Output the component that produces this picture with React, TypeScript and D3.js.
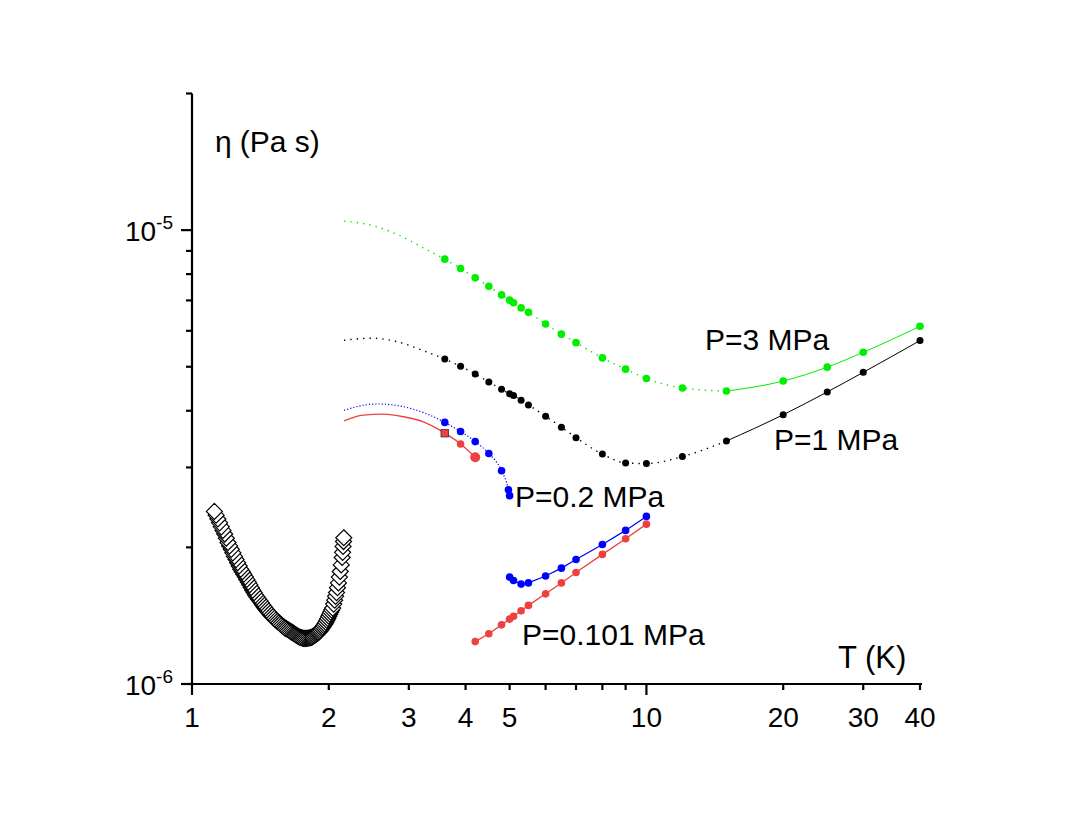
import React from "react";
import * as d3 from "d3";

// P = 3 MPa and P = 1 MPa share the same temperatures (K)
const tempsHighP = [3.6, 3.9, 4.2, 4.5, 4.8, 5.0, 5.1, 5.3, 5.5, 6, 6.5, 7, 8, 9, 10, 12, 15, 20, 25, 30, 40];
// viscosity in units of 1e-6 Pa s
const eta3MPa = [8.63, 8.23, 7.85, 7.52, 7.2, 7.01, 6.92, 6.74, 6.59, 6.21, 5.9, 5.65, 5.23, 4.94, 4.71, 4.49, 4.42, 4.65, 4.99, 5.38, 6.14];
const eta1MPa = [5.2, 5.01, 4.82, 4.63, 4.46, 4.36, 4.32, 4.22, 4.12, 3.89, 3.68, 3.49, 3.21, 3.07, 3.06, 3.17, 3.43, 3.92, 4.4, 4.86, 5.71];

// fitted curve extension to low T
const fitTempsHighP = [2.16, 2.49, 2.82, 3.3];
const fit3MPa = [10.47, 10.24, 9.8, 9.03];
const fit1MPa = [5.72, 5.78, 5.68, 5.38];

// P = 0.2 MPa
const temps02Liq = [3.6, 3.9, 4.2, 4.5, 4.8, 4.97, 5.0];
const eta02Liq = [3.77, 3.6, 3.42, 3.22, 2.95, 2.68, 2.6];
const fitTemps02 = [2.16, 2.32, 2.55, 2.82, 3.12, 3.34];
const fit02 = [4.01, 4.09, 4.14, 4.11, 4.01, 3.91];
const temps02Gas = [5.0, 5.1, 5.3, 5.5, 6, 6.5, 7, 8, 9, 10];
const eta02Gas = [1.72, 1.69, 1.66, 1.67, 1.73, 1.8, 1.88, 2.03, 2.18, 2.34];

// P = 0.101 MPa
const temps0101Liq = [3.6, 3.9, 4.2];
const eta0101Liq = [3.57, 3.38, 3.16];
const fitTemps0101 = [2.16, 2.38, 2.64, 2.92, 3.23];
const fit0101 = [3.8, 3.91, 3.93, 3.88, 3.78];
const temps0101Gas = [4.2, 4.5, 4.8, 5.0, 5.1, 5.3, 5.5, 6, 6.5, 7, 8, 9, 10];
const eta0101Gas = [1.24, 1.29, 1.35, 1.39, 1.41, 1.45, 1.49, 1.58, 1.67, 1.76, 1.93, 2.09, 2.25];

// superfluid helium (diamonds)
const tempsHe = [
  1.12, 1.13, 1.14, 1.15, 1.16, 1.17, 1.18, 1.19, 1.2, 1.21, 1.22, 1.23, 1.24, 1.25, 1.26, 1.27, 1.28, 1.29,
  1.3, 1.31, 1.32, 1.33, 1.34, 1.35, 1.36, 1.37, 1.38, 1.39, 1.4, 1.41, 1.42, 1.43, 1.44, 1.45, 1.46, 1.47,
  1.48, 1.49, 1.5, 1.51, 1.52, 1.53, 1.54, 1.55, 1.56, 1.57, 1.58, 1.59, 1.6, 1.61, 1.62, 1.63, 1.64, 1.65,
  1.66, 1.67, 1.68, 1.69, 1.7, 1.71, 1.72, 1.73, 1.74, 1.75, 1.76, 1.77, 1.78, 1.79, 1.8, 1.81, 1.82, 1.83,
  1.84, 1.85, 1.86, 1.87, 1.88, 1.89, 1.9, 1.91, 1.92, 1.93, 1.94, 1.95, 1.96, 1.97, 1.98, 1.99, 2.0, 2.01,
  2.02, 2.03, 2.04, 2.05, 2.06, 2.07, 2.08, 2.09, 2.1, 2.11, 2.12, 2.13, 2.14, 2.145, 2.15, 2.155, 2.158,
];
const etaHe = [
  2.4, 2.355, 2.31, 2.265, 2.22, 2.18, 2.14, 2.095, 2.05, 2.015, 1.98, 1.945, 1.91, 1.88, 1.85, 1.82, 1.79, 1.767,
  1.745, 1.722, 1.7, 1.677, 1.655, 1.632, 1.61, 1.59, 1.57, 1.555, 1.54, 1.525, 1.51, 1.495, 1.48, 1.467, 1.455, 1.442,
  1.43, 1.42, 1.41, 1.4, 1.39, 1.382, 1.375, 1.367, 1.36, 1.352, 1.345, 1.337, 1.33, 1.325, 1.32, 1.315, 1.31, 1.305,
  1.3, 1.295, 1.29, 1.285, 1.28, 1.275, 1.27, 1.267, 1.265, 1.262, 1.26, 1.26, 1.26, 1.261, 1.262, 1.263, 1.265, 1.267,
  1.27, 1.275, 1.28, 1.285, 1.29, 1.295, 1.3, 1.307, 1.315, 1.325, 1.335, 1.345, 1.355, 1.367, 1.38, 1.395, 1.41, 1.425,
  1.44, 1.455, 1.47, 1.5, 1.53, 1.56, 1.59, 1.63, 1.67, 1.72, 1.77, 1.83, 1.9, 1.95, 2.01, 2.06, 2.1,
];

const xTickLabels = [1, 2, 3, 4, 5, 10, 20, 30, 40];
const xMinorTicks = [2, 3, 4, 5, 6, 7, 8, 9, 20, 30, 40];
const xMajorTicks = [1, 10];
const yMajorTicks = [1e-6, 1e-5];
const yMinorTicks = [2e-6, 3e-6, 4e-6, 5e-6, 6e-6, 7e-6, 8e-6, 9e-6, 2e-5];

const GREEN = "#00ee00";
const BLUE = "#0000ff";
const RED = "#ee4040";
const FONT = "'Liberation Sans', Arial, sans-serif";

function pts(ts: number[], es: number[]) {
  return ts.map((t, i) => ({ t, e: es[i] * 1e-6 }));
}

function App() {
  const width = 1072;
  const height = 821;
  const x = d3.scaleLog().domain([1, 40]).range([192, 920]);
  const y = d3.scaleLog().domain([1e-6, 2e-5]).range([684, 93.5]);

  const line = d3
    .line<{ t: number; e: number }>()
    .x((d) => x(d.t))
    .y((d) => y(d.e))
    .curve(d3.curveMonotoneX);
  const straight = d3
    .line<{ t: number; e: number }>()
    .x((d) => x(d.t))
    .y((d) => y(d.e));

  const green = pts(tempsHighP, eta3MPa);
  const black = pts(tempsHighP, eta1MPa);
  const cut = tempsHighP.indexOf(15);
  const greenFit = [...pts(fitTempsHighP, fit3MPa), ...green.slice(0, cut + 1)];
  const blackFit = [...pts(fitTempsHighP, fit1MPa), ...black.slice(0, cut + 1)];
  const blueLiq = pts(temps02Liq, eta02Liq);
  const blueFit = [...pts(fitTemps02, fit02), ...blueLiq];
  const blueGas = pts(temps02Gas, eta02Gas);
  const redLiq = pts(temps0101Liq, eta0101Liq);
  const redFit = [...pts(fitTemps0101, fit0101), ...redLiq];
  const redGas = pts(temps0101Gas, eta0101Gas);
  const he = pts(tempsHe, etaHe).sort((a, b) => a.e - b.e);

  const dots = (data: { t: number; e: number }[], color: string, r: number) =>
    data.map((d, i) => <circle key={i} cx={x(d.t)} cy={y(d.e)} r={r} fill={color} />);

  return (
    <svg
      width={width}
      height={height}
      style={{ position: "absolute", left: 0, top: 0, background: "#fff" }}
      fontFamily={FONT}
    >
      {/* helium II diamonds */}
      <g>
        {he.map((d, i) => {
          const cx = x(d.t);
          const cy = y(d.e);
          const s = 8;
          return (
            <path
              key={i}
              d={`M${cx},${cy - s}L${cx + s},${cy}L${cx},${cy + s}L${cx - s},${cy}Z`}
              fill="#fff"
              stroke="#000"
              strokeWidth={1.2}
            />
          );
        })}
      </g>

      {/* P = 3 MPa */}
      <path d={line(greenFit) ?? ""} fill="none" stroke={GREEN} strokeWidth={1.4} strokeDasharray="1.4 5" />
      <path d={line(green.slice(cut)) ?? ""} fill="none" stroke={GREEN} strokeWidth={1} />
      {dots(green, GREEN, 3.8)}

      {/* P = 1 MPa */}
      <path d={line(blackFit) ?? ""} fill="none" stroke="#000" strokeWidth={1.4} strokeDasharray="1.4 5" />
      <path d={line(black.slice(cut)) ?? ""} fill="none" stroke="#000" strokeWidth={1} />
      {dots(black, "#000", 3.5)}

      {/* P = 0.2 MPa */}
      <path d={line(blueFit) ?? ""} fill="none" stroke={BLUE} strokeWidth={1.2} strokeDasharray="1.2 2" />
      <path d={straight(blueGas) ?? ""} fill="none" stroke={BLUE} strokeWidth={1.2} />
      {dots(blueLiq, BLUE, 3.8)}
      {dots(blueGas, BLUE, 3.8)}

      {/* P = 0.101 MPa */}
      <path d={line(redFit) ?? ""} fill="none" stroke={RED} strokeWidth={1.3} />
      <path d={straight(redGas) ?? ""} fill="none" stroke={RED} strokeWidth={1.3} />
      {redLiq.map((d, i) =>
        i === 0 ? (
          <rect
            key={i}
            x={x(d.t) - 3.8}
            y={y(d.e) - 3.8}
            width={7.6}
            height={7.6}
            fill={RED}
            stroke="#333"
            strokeWidth={0.8}
          />
        ) : (
          <circle key={i} cx={x(d.t)} cy={y(d.e)} r={i === redLiq.length - 1 ? 5 : 3.8} fill={RED} />
        )
      )}
      {dots(redGas, RED, 3.8)}

      {/* axes */}
      <line x1={x(1)} y1={y(2e-5)} x2={x(1)} y2={y(1e-6)} stroke="#000" strokeWidth={2.2} />
      <line x1={181} y1={y(1e-6)} x2={922} y2={y(1e-6)} stroke="#000" strokeWidth={2.2} />
      {yMajorTicks.map((v) => (
        <line key={v} x1={x(1) - 11} x2={x(1)} y1={y(v)} y2={y(v)} stroke="#000" strokeWidth={2.2} />
      ))}
      {yMinorTicks.map((v) => (
        <line key={v} x1={x(1) - 6} x2={x(1)} y1={y(v)} y2={y(v)} stroke="#000" strokeWidth={2.2} />
      ))}
      {xMajorTicks.map((v) => (
        <line key={v} x1={x(v)} x2={x(v)} y1={y(1e-6)} y2={y(1e-6) + 11} stroke="#000" strokeWidth={2.2} />
      ))}
      {xMinorTicks.map((v) => (
        <line key={v} x1={x(v)} x2={x(v)} y1={y(1e-6)} y2={y(1e-6) + 6} stroke="#000" strokeWidth={2.2} />
      ))}
      {xTickLabels.map((v) => (
        <text key={v} x={x(v)} y={727} textAnchor="middle" fontSize={28}>
          {v}
        </text>
      ))}
      {yMajorTicks.map((v) => (
        <text key={v} x={173} y={y(v) + 11} textAnchor="end" fontSize={28}>
          10
          <tspan dy={-12} fontSize={19}>
            {Math.round(Math.log10(v))}
          </tspan>
        </text>
      ))}

      {/* labels */}
      <text x={215} y={152} fontSize={30}>
        η<tspan dx={8}>(Pa s)</tspan>
      </text>
      <text x={838} y={668} fontSize={31}>
        T (K)
      </text>
      <text x={705} y={350} fontSize={30}>
        P=3 MPa
      </text>
      <text x={774} y={450} fontSize={30}>
        P=1 MPa
      </text>
      <text x={515} y={507} fontSize={30}>
        P=0.2 MPa
      </text>
      <text x={522} y={645} fontSize={30}>
        P=0.101 MPa
      </text>
    </svg>
  );
}

export default App;
